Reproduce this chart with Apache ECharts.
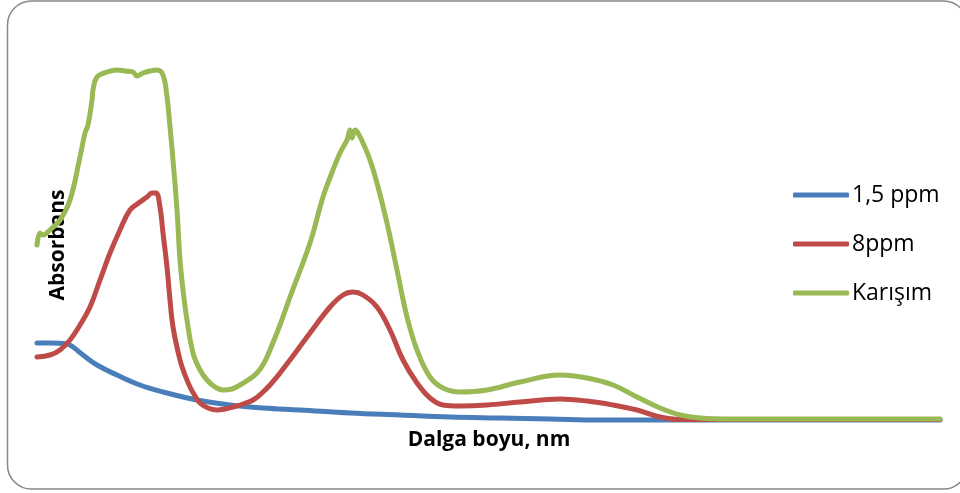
<!DOCTYPE html>
<html>
<head>
<meta charset="utf-8">
<script src="https://cdn.jsdelivr.net/npm/echarts@6/dist/echarts.min.js"></script>
<style>
html,body{margin:0;padding:0;background:#fff;}
#chart{width:960px;height:493px;}
</style>
</head>
<body>
<div id="chart"></div>
<script>
// Series names (legend)
const seriesNames = ['1,5 ppm', '8ppm', 'Karışım'];
const axisTitleX = 'Dalga boyu, nm';
const axisTitleY = 'Absorbans';

// 1,5 ppm (blue) — wavelength position (relative units) and absorbance
const xBlue = [0, 13, 30, 36, 46, 60, 80, 103, 126, 160, 193, 226, 263, 313, 363, 413, 463, 513, 563, 903];
const yBlue = [0.77, 0.77, 0.76, 0.73, 0.65, 0.55, 0.45, 0.35, 0.28, 0.20, 0.15, 0.12, 0.10, 0.07, 0.05, 0.03, 0.02, 0.01, 0.00, 0.00];

// 8ppm (red)
const xRed = [0, 13, 23, 33, 43, 53, 63, 73, 83, 93, 103, 110, 115, 119, 123, 126, 130, 133, 136, 143, 148, 153, 158, 163, 171, 180, 188, 196, 206, 216, 225, 233, 243, 253, 273, 293, 306, 316, 326, 340, 353, 366, 380, 393, 406, 423, 450, 483, 523, 550, 576, 600, 623, 643, 903];
const yRed = [0.63, 0.65, 0.70, 0.80, 0.95, 1.13, 1.40, 1.67, 1.90, 2.10, 2.18, 2.23, 2.27, 2.27, 2.13, 1.87, 1.53, 1.20, 0.93, 0.60, 0.45, 0.33, 0.24, 0.17, 0.12, 0.10, 0.11, 0.13, 0.16, 0.20, 0.27, 0.35, 0.47, 0.60, 0.87, 1.13, 1.25, 1.28, 1.25, 1.13, 0.90, 0.60, 0.37, 0.22, 0.15, 0.14, 0.15, 0.18, 0.21, 0.19, 0.15, 0.10, 0.03, 0.005, 0.005];

// Karışım (green)
const xGreen = [0, 3, 6, 13, 23, 33, 43, 48, 51, 55, 56, 60, 70, 80, 88, 96, 100, 106, 113, 120, 126, 130, 133, 136, 140, 143, 146, 150, 156, 163, 170, 178, 186, 195, 203, 211, 220, 227, 233, 243, 253, 273, 286, 296, 303, 310, 313, 315, 318, 321, 326, 333, 340, 350, 360, 370, 380, 393, 406, 423, 450, 483, 523, 550, 576, 600, 623, 643, 663, 696, 903];
const yGreen = [1.75, 1.87, 1.85, 1.90, 2.00, 2.20, 2.63, 2.87, 2.95, 3.20, 3.30, 3.43, 3.48, 3.50, 3.49, 3.48, 3.44, 3.47, 3.49, 3.50, 3.45, 3.23, 2.93, 2.60, 2.10, 1.60, 1.30, 1.00, 0.67, 0.50, 0.40, 0.33, 0.30, 0.31, 0.35, 0.40, 0.47, 0.57, 0.70, 0.95, 1.23, 1.77, 2.23, 2.50, 2.67, 2.80, 2.90, 2.82, 2.90, 2.87, 2.77, 2.60, 2.37, 1.97, 1.50, 1.03, 0.70, 0.43, 0.32, 0.28, 0.30, 0.38, 0.45, 0.42, 0.35, 0.23, 0.12, 0.05, 0.02, 0.01, 0.01];

const colors = ['#4A7EBB', '#BE4B48', '#98B954'];

function zip(xs, ys) { return xs.map((x, i) => [x, ys[i]]); }

const chart = echarts.init(document.getElementById('chart'), null, { renderer: 'canvas' });
const lineSeries = (name, xs, ys, color) => ({
  name: name,
  type: 'line',
  data: zip(xs, ys),
  smooth: 0.4,
  symbol: 'none',
  showSymbol: false,
  color: color,
  itemStyle: { color: color },
  lineStyle: { width: 5, color: color, cap: 'round', join: 'round' },
  clip: false
});

chart.setOption({
  animation: false,
  backgroundColor: '#fff',
  grid: { left: 37, right: 20, top: 20, bottom: 23, containLabel: false },
  xAxis: { type: 'value', min: 0, max: 903, show: false },
  yAxis: { type: 'value', min: -0.5, max: 4, show: false },
  legend: {
    orient: 'vertical',
    left: 788,
    top: 178,
    itemWidth: 56,
    itemHeight: 5,
    itemGap: 25,
    icon: 'roundRect',
    data: seriesNames,
    textStyle: { fontSize: 23, color: '#000', fontFamily: 'Open Sans', lineHeight: 24, padding: [0, 0, 0, -2] }
  },
  graphic: [
    {
      type: 'rect', silent: true,
      shape: { x: 7.5, y: 1, width: 960, height: 488, r: 24 },
      style: { fill: 'none', stroke: '#888', lineWidth: 1.5 }
    },
    {
      type: 'text', x: 489, y: 440, silent: true,
      style: { text: axisTitleX, font: 'bold 21px "Open Sans"', fill: '#000', textAlign: 'center', textVerticalAlign: 'middle' }
    },
    {
      type: 'group', x: 58, y: 245, rotation: Math.PI / 2, silent: true,
      children: [{
        type: 'text', x: 0, y: 0,
        style: { text: axisTitleY, font: 'bold 21px "Open Sans"', fill: '#000', textAlign: 'center', textVerticalAlign: 'middle' }
      }]
    }
  ],
  series: [
    lineSeries(seriesNames[0], xBlue, yBlue, colors[0]),
    lineSeries(seriesNames[1], xRed, yRed, colors[1]),
    lineSeries(seriesNames[2], xGreen, yGreen, colors[2])
  ]
});
</script>
</body>
</html>
